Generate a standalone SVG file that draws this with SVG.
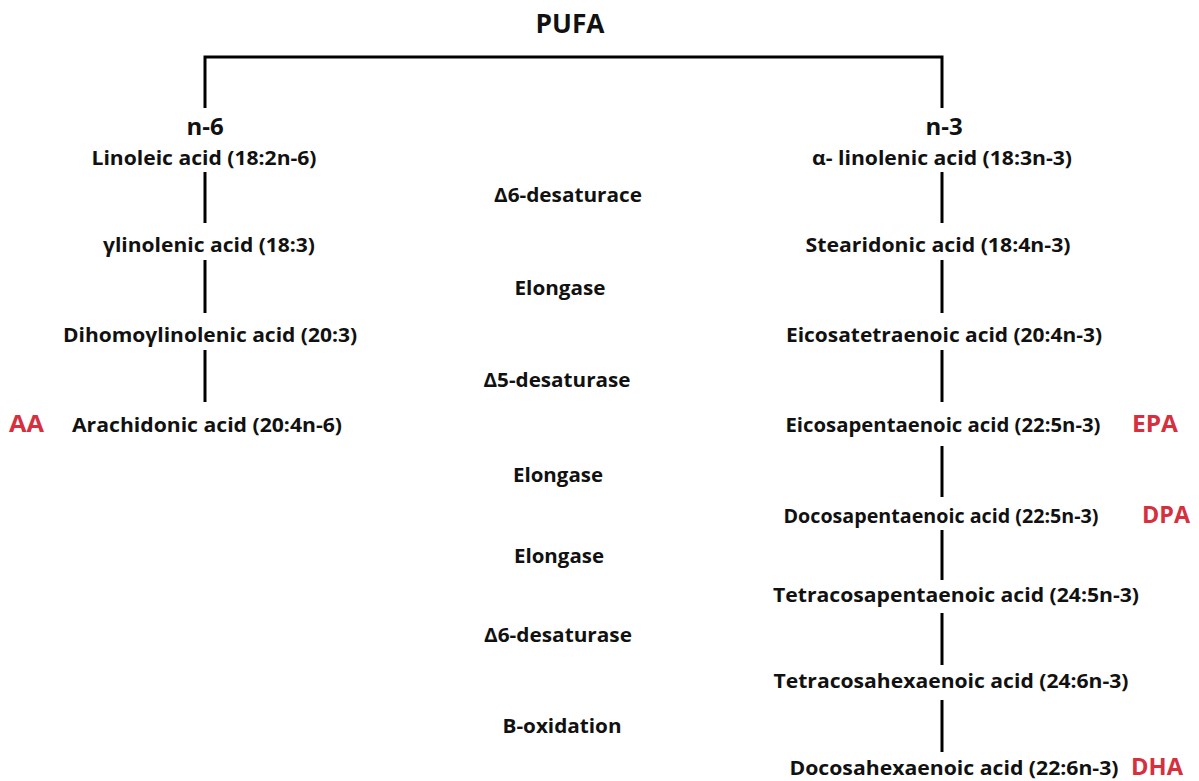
<svg xmlns="http://www.w3.org/2000/svg" width="1199" height="781" viewBox="0 0 1199 781">
<style>
text{font-family:"Open Sans",Lato,"Liberation Sans",sans-serif;font-weight:bold;fill:#111;}
.t{font-size:20px;text-anchor:middle;}
.h{font-size:24px;text-anchor:middle;}
.r{font-size:24px;fill:#d6303f;}
.c line,.c polyline{stroke:#000;stroke-width:3;fill:none;}
</style>
<rect width="1199" height="781" fill="#fff"/>
<g class="c" id="connectors">
<polyline points="205,108 205,57 942,57 942,108"/>
<line x1="205" y1="172" x2="205" y2="223"/>
<line x1="205" y1="260" x2="205" y2="313"/>
<line x1="205" y1="350" x2="205" y2="402"/>
<line x1="942" y1="172" x2="942" y2="223"/>
<line x1="942" y1="260" x2="942" y2="313"/>
<line x1="942" y1="350" x2="942" y2="402"/>
<line x1="942" y1="446" x2="942" y2="497"/>
<line x1="942" y1="530" x2="942" y2="580"/>
<line x1="942" y1="613" x2="942" y2="665"/>
<line x1="942" y1="700" x2="942" y2="752"/>
</g>
<g id="pufa"><text x="570" y="33" font-size="26" text-anchor="middle" textLength="69" lengthAdjust="spacingAndGlyphs">PUFA</text></g>
<g id="n6"><text class="h" x="205" y="135">n-6</text></g>
<g id="n3"><text class="h" x="944" y="135">n-3</text></g>
<g id="la"><text class="t" x="204" y="165" textLength="225" lengthAdjust="spacingAndGlyphs">Linoleic acid (18:2n-6)</text></g>
<g id="gla"><text class="t" x="209" y="252" textLength="212" lengthAdjust="spacingAndGlyphs">γlinolenic acid (18:3)</text></g>
<g id="dgla"><text class="t" x="210" y="342" textLength="294" lengthAdjust="spacingAndGlyphs">Dihomoγlinolenic acid (20:3)</text></g>
<g id="aa"><text class="t" x="207" y="432" textLength="270" lengthAdjust="spacingAndGlyphs">Arachidonic acid (20:4n-6)</text><text class="r" x="9" y="432" textLength="35" lengthAdjust="spacingAndGlyphs">AA</text></g>
<g id="ala"><text class="t" x="942" y="165" textLength="260" lengthAdjust="spacingAndGlyphs">α- linolenic acid (18:3n-3)</text></g>
<g id="sda"><text class="t" x="938" y="252" textLength="265" lengthAdjust="spacingAndGlyphs">Stearidonic acid (18:4n-3)</text></g>
<g id="eta"><text class="t" x="944" y="342" textLength="316" lengthAdjust="spacingAndGlyphs">Eicosatetraenoic acid (20:4n-3)</text></g>
<g id="epa"><text class="t" x="943" y="432" textLength="315" lengthAdjust="spacingAndGlyphs">Eicosapentaenoic acid (22:5n-3)</text><text class="r" x="1132" y="432" textLength="46" lengthAdjust="spacingAndGlyphs">EPA</text></g>
<g id="dpa"><text class="t" x="941" y="523" textLength="315" lengthAdjust="spacingAndGlyphs">Docosapentaenoic acid (22:5n-3)</text><text class="r" x="1142" y="523" textLength="48" lengthAdjust="spacingAndGlyphs">DPA</text></g>
<g id="tpa"><text class="t" x="956" y="602" textLength="366" lengthAdjust="spacingAndGlyphs">Tetracosapentaenoic acid (24:5n-3)</text></g>
<g id="tha"><text class="t" x="951" y="688" textLength="355" lengthAdjust="spacingAndGlyphs">Tetracosahexaenoic acid (24:6n-3)</text></g>
<g id="dha"><text class="t" x="954" y="775" textLength="329" lengthAdjust="spacingAndGlyphs">Docosahexaenoic acid (22:6n-3)</text><text class="r" x="1131" y="775" textLength="52" lengthAdjust="spacingAndGlyphs">DHA</text></g>
<g id="enzymes">
<text class="t" x="568" y="202" textLength="148" lengthAdjust="spacingAndGlyphs">Δ6-desaturace</text>
<text class="t" x="560" y="295" textLength="91" lengthAdjust="spacingAndGlyphs">Elongase</text>
<text class="t" x="557" y="387" textLength="147" lengthAdjust="spacingAndGlyphs">Δ5-desaturase</text>
<text class="t" x="558" y="482" textLength="90" lengthAdjust="spacingAndGlyphs">Elongase</text>
<text class="t" x="559" y="563" textLength="90" lengthAdjust="spacingAndGlyphs">Elongase</text>
<text class="t" x="558" y="642" textLength="148" lengthAdjust="spacingAndGlyphs">Δ6-desaturase</text>
<text class="t" x="562" y="733" textLength="119" lengthAdjust="spacingAndGlyphs">B-oxidation</text>
</g>
</svg>
